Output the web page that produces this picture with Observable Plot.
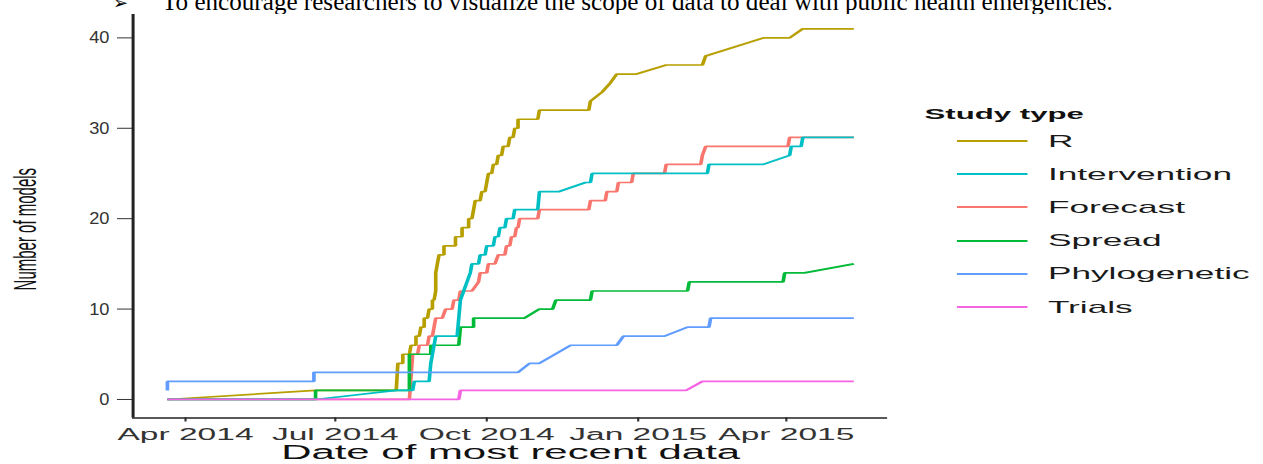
<!DOCTYPE html>
<html>
<head>
<meta charset="utf-8">
<script src="https://cdn.jsdelivr.net/npm/d3@7"></script>
<script src="https://cdn.jsdelivr.net/npm/@observablehq/plot@0.6"></script>
<style>
  html, body { margin: 0; padding: 0; background: #fff; overflow: hidden; }
  body { width: 1263px; height: 464px; position: relative; }
  #note { position: absolute; left: 0; top: 0; width: 1263px; height: 14px; overflow: hidden; background: #fff; z-index: 2; }
  #figure { position: absolute; left: 0; top: 0; width: 587.4px; height: 464px;
            transform: scaleX(2.15); transform-origin: 0 0;
            font-family: "Liberation Sans", Arial, sans-serif; }
  #chart { position: absolute; left: 0; top: 0; }
  #legend { position: absolute; left: 0; top: 0; width: 100%; height: 100%; pointer-events: none; }
  .legend-title { position: absolute; font-weight: bold; font-size: 14.5px; color: #111; white-space: nowrap; }
  .legend-row { position: absolute; height: 20px; display: flex; align-items: center; white-space: nowrap; }
  .legend-row span { font-size: 16.4px; color: #1a1a1a; }
</style>
</head>
<body>
<div id="note"></div>
<div id="figure">
  <div id="chart"></div>
  <div id="legend"></div>
</div>
<script>
// Cumulative number of models by date of most recent data, one list per study type.
const rModels = [
  ["2014-03-21", 0], ["2014-06-19", 1], ["2014-08-07", 1], ["2014-08-08", 4],
  ["2014-08-11", 4], ["2014-08-11", 5], ["2014-08-15", 5], ["2014-08-16", 6],
  ["2014-08-19", 6], ["2014-08-19", 7], ["2014-08-21", 7], ["2014-08-22", 8],
  ["2014-08-24", 8], ["2014-08-24", 9], ["2014-08-26", 9], ["2014-08-27", 10],
  ["2014-08-29", 10], ["2014-08-29", 11], ["2014-08-30", 11], ["2014-08-31", 12],
  ["2014-08-31", 14], ["2014-09-01", 15], ["2014-09-02", 16], ["2014-09-05", 16],
  ["2014-09-05", 17], ["2014-09-12", 17], ["2014-09-12", 18], ["2014-09-16", 18],
  ["2014-09-16", 19], ["2014-09-20", 19], ["2014-09-20", 20], ["2014-09-22", 20],
  ["2014-09-23", 21], ["2014-09-24", 22], ["2014-09-27", 22], ["2014-09-28", 23],
  ["2014-09-30", 23], ["2014-10-01", 24], ["2014-10-02", 25], ["2014-10-04", 25],
  ["2014-10-05", 26], ["2014-10-07", 26], ["2014-10-08", 27], ["2014-10-10", 27],
  ["2014-10-11", 28], ["2014-10-14", 28], ["2014-10-15", 29], ["2014-10-17", 29],
  ["2014-10-18", 30], ["2014-10-20", 30], ["2014-10-20", 31], ["2014-11-01", 31],
  ["2014-11-02", 32], ["2014-12-02", 32], ["2014-12-03", 33], ["2014-12-10", 34],
  ["2014-12-15", 35], ["2014-12-19", 36], ["2014-12-31", 36], ["2015-01-18", 37],
  ["2015-02-09", 37], ["2015-02-11", 38], ["2015-03-18", 40], ["2015-04-03", 40],
  ["2015-04-11", 41], ["2015-05-12", 41]
];

const interventionModels = [
  ["2014-03-21", 0], ["2014-06-19", 0], ["2014-08-07", 1], ["2014-08-17", 1],
  ["2014-08-18", 2], ["2014-08-27", 2], ["2014-08-28", 4], ["2014-08-29", 5],
  ["2014-08-30", 6], ["2014-08-31", 7], ["2014-09-13", 7], ["2014-09-14", 9],
  ["2014-09-15", 11], ["2014-09-17", 12], ["2014-09-19", 13], ["2014-09-21", 14],
  ["2014-09-22", 15], ["2014-09-26", 15], ["2014-09-27", 16], ["2014-09-30", 16],
  ["2014-10-01", 17], ["2014-10-05", 17], ["2014-10-06", 18], ["2014-10-08", 18],
  ["2014-10-09", 19], ["2014-10-12", 19], ["2014-10-13", 20], ["2014-10-17", 20],
  ["2014-10-18", 21], ["2014-11-01", 21], ["2014-11-02", 23], ["2014-11-14", 23],
  ["2014-11-30", 24], ["2014-12-03", 24], ["2014-12-04", 25], ["2015-02-12", 25],
  ["2015-02-13", 26], ["2015-03-18", 26], ["2015-04-03", 27], ["2015-04-04", 28],
  ["2015-04-10", 28], ["2015-04-11", 29], ["2015-05-12", 29]
];

const forecastModels = [
  ["2014-03-21", 0], ["2014-08-15", 0], ["2014-08-17", 5], ["2014-08-20", 5],
  ["2014-08-21", 6], ["2014-08-26", 6], ["2014-08-27", 7], ["2014-08-29", 7],
  ["2014-08-30", 8], ["2014-08-31", 9], ["2014-09-04", 9], ["2014-09-06", 10],
  ["2014-09-10", 10], ["2014-09-11", 11], ["2014-09-14", 11], ["2014-09-15", 12],
  ["2014-09-22", 12], ["2014-09-26", 13], ["2014-09-27", 14], ["2014-10-01", 14],
  ["2014-10-02", 15], ["2014-10-06", 15], ["2014-10-08", 16], ["2014-10-12", 16],
  ["2014-10-13", 17], ["2014-10-15", 17], ["2014-10-16", 18], ["2014-10-18", 18],
  ["2014-10-19", 19], ["2014-10-20", 19], ["2014-10-21", 20], ["2014-11-01", 20],
  ["2014-11-02", 21], ["2014-12-02", 21], ["2014-12-03", 22], ["2014-12-12", 22],
  ["2014-12-13", 23], ["2014-12-19", 23], ["2014-12-20", 24], ["2014-12-28", 24],
  ["2014-12-29", 25], ["2015-01-17", 25], ["2015-01-18", 26], ["2015-02-08", 26],
  ["2015-02-09", 27], ["2015-02-11", 28], ["2015-04-02", 28], ["2015-04-03", 29],
  ["2015-05-12", 29]
];

const spreadModels = [
  ["2014-03-21", 0], ["2014-06-19", 0], ["2014-06-19", 1], ["2014-08-15", 1],
  ["2014-08-15", 5], ["2014-08-28", 5], ["2014-08-28", 6], ["2014-09-14", 6],
  ["2014-09-15", 8], ["2014-09-23", 8], ["2014-09-23", 9], ["2014-10-24", 9],
  ["2014-11-02", 10], ["2014-11-10", 10], ["2014-11-12", 11], ["2014-12-03", 11],
  ["2014-12-04", 12], ["2015-01-31", 12], ["2015-02-01", 13], ["2015-03-30", 13],
  ["2015-03-31", 14], ["2015-04-12", 14], ["2015-05-12", 15]
];

const phyloModels = [
  ["2014-03-21", 1], ["2014-03-21", 2], ["2014-06-18", 2], ["2014-06-18", 3],
  ["2014-10-20", 3], ["2014-10-27", 4], ["2014-11-02", 4], ["2014-11-21", 6],
  ["2014-12-19", 6], ["2014-12-23", 7], ["2015-01-17", 7], ["2015-01-31", 8],
  ["2015-02-13", 8], ["2015-02-14", 9], ["2015-05-12", 9]
];

const trialModels = [
  ["2014-03-21", 0], ["2014-09-14", 0], ["2014-09-15", 1], ["2015-01-30", 1],
  ["2015-02-09", 2], ["2015-05-12", 2]
];

// Legend order, and the colours that go with it.
const studyTypes = ["R", "Intervention", "Forecast", "Spread", "Phylogenetic", "Trials"];
const studyColors = ["#B79F00", "#00BFC4", "#F8766D", "#00BA38", "#619CFF", "#F564E3"];
// Lines are stacked in this order (later ones on top).
const drawOrder = ["Forecast", "R", "Spread", "Intervention", "Phylogenetic", "Trials"];

const yTicks = [0, 10, 20, 30, 40];
const xTicks = ["2014-04-01", "2014-07-01", "2014-10-01", "2015-01-01", "2015-04-01"];

const noteText = "To encourage researchers to visualize the scope of data to deal with public health emergencies.";

const seriesByType = {
  R: rModels, Intervention: interventionModels, Forecast: forecastModels,
  Spread: spreadModels, Phylogenetic: phyloModels, Trials: trialModels
};

const rows = drawOrder.flatMap(type =>
  seriesByType[type].map(([date, n]) => ({type, date: new Date(date + "T00:00:00Z"), n}))
);

// ggplot-style 5% expansion on both scales
const [t0, t1] = d3.extent(rows, d => d.date);
const padT = (t1 - t0) * 0.05;
const xDomain = [new Date(+t0 - padT), new Date(+t1 + padT)];
const nMax = d3.max(rows, d => d.n);
const padN = nMax * 0.05;
const yDomain = [0 - padN, nMax + padN];

const chart = Plot.plot({
  width: 420,
  height: 464,
  marginLeft: 61.4,
  marginRight: 7.4,
  marginTop: 9.8,
  marginBottom: 46.5,
  style: {fontFamily: "'Liberation Sans', Arial, sans-serif", fontSize: "16px", background: "transparent", overflow: "visible"},
  x: {type: "utc", domain: xDomain},
  y: {domain: yDomain},
  color: {domain: studyTypes, range: studyColors},
  marks: [
    ...drawOrder.map(type =>
      Plot.line(rows.filter(d => d.type === type), {
        x: "date", y: "n", stroke: "type", strokeWidth: 1.7, strokeLinejoin: "miter", strokeLinecap: "butt"
      })
    ),
    Plot.axisY({ticks: yTicks, tickSize: 7, tickPadding: 4, fontSize: 17, color: "#333", label: null}),
    Plot.axisX({
      ticks: xTicks.map(d => new Date(d + "T00:00:00Z")),
      tickFormat: d3.utcFormat("%b %Y"),
      tickSize: 4, tickPadding: 6.5, fontSize: 15.6, color: "#333", label: null
    }),
    Plot.ruleX([xDomain[0]], {stroke: "#222", strokeWidth: 1.4}),
    Plot.ruleY([yDomain[0]], {stroke: "#222", strokeWidth: 1.4}),
    Plot.text(["Date of most recent data"], {frameAnchor: "bottom", dy: 41, fontSize: 19.5, fill: "#111"}),
    Plot.text(["Number of models"], {
      frameAnchor: "left", textAnchor: "middle", rotate: -90, dx: -50, dy: 15, fontSize: 15, fill: "#111"
    })
  ]
});
// The value labels on the left axis use narrower digits than the rest of the figure.
d3.select(chart).selectAll('g[aria-label="y-axis tick label"] text').each(function () {
  const t = this.getAttribute("transform") || "";
  this.setAttribute("transform", t + " scale(0.5,1)");
});
document.getElementById("chart").append(chart);

// Legend: line keys with labels
const legend = d3.select("#legend");
legend.append("div").attr("class", "legend-title")
  .style("left", "430px").style("top", "106px").text("Study type");
const rowTop0 = 141, rowStep = 33.2;
studyTypes.forEach((type, i) => {
  const row = legend.append("div").attr("class", "legend-row")
    .style("left", "445px").style("top", (rowTop0 + i * rowStep - 10) + "px");
  const key = row.append("svg").attr("width", 33).attr("height", 20).style("margin-right", "9.4px");
  key.append("line").attr("x1", 0).attr("x2", 33).attr("y1", 10).attr("y2", 10)
    .attr("stroke", studyColors[i]).attr("stroke-width", 1.9);
  row.append("span").text(type);
});

// Bullet line above the figure
const note = d3.select("#note").append("svg").attr("width", 1263).attr("height", 14);
note.append("text").attr("x", 113).attr("y", 9)
  .attr("font-family", "'DejaVu Sans', sans-serif").attr("font-size", 18).attr("fill", "#000").text("➢");
const noteLine = note.append("text").attr("x", 162).attr("y", 10)
  .attr("font-family", "'Liberation Serif', 'Times New Roman', serif").attr("font-size", 22).attr("fill", "#000")
  .text(noteText);
const noteLen = noteLine.node().getComputedTextLength();
if (noteLen > 0) noteLine.attr("font-size", 22 * 951 / noteLen);
</script>
</body>
</html>
